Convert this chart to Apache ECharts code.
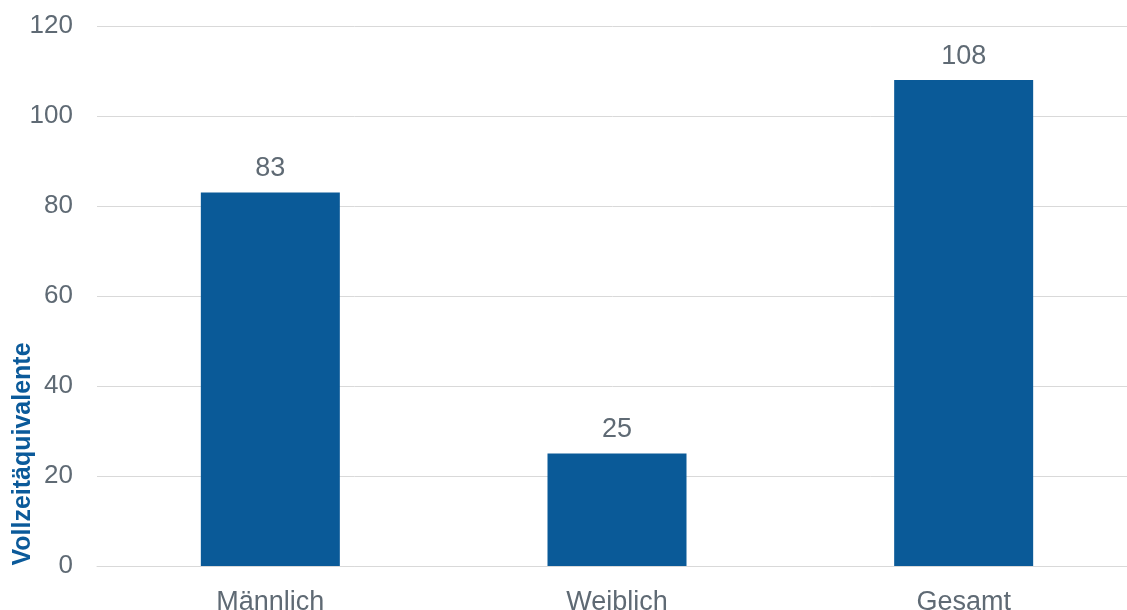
<!DOCTYPE html>
<html>
<head>
<meta charset="utf-8">
<script src="https://cdn.jsdelivr.net/npm/echarts@6/dist/echarts.min.js"></script>
<style>
  html, body { margin: 0; padding: 0; background: #fff; overflow: hidden; }
  #chart { width: 1127px; height: 610px; }
</style>
</head>
<body>
<div id="chart"></div>
<script>
// Daten
const categories = ["Männlich", "Weiblich", "Gesamt"];
const values = [83, 25, 108];
const yTitle = "Vollzeitäquivalente";

const chart = echarts.init(document.getElementById("chart"));
chart.setOption({
  animation: false,
  textStyle: { fontFamily: "Liberation Sans, Arial, sans-serif" },
  // Gitter reicht rechts etwas über den Rand hinaus (wie im Original)
  grid: { left: 97, right: -10, top: 26, bottom: 44, outerBoundsMode: "none" },
  xAxis: {
    type: "category",
    data: categories,
    axisLine: { lineStyle: { color: "#d9d9d9", width: 1 } },
    axisTick: { show: false },
    axisLabel: { color: "#5f6a74", fontSize: 27, margin: 23 }
  },
  yAxis: {
    type: "value",
    min: 0,
    max: 120,
    interval: 20,
    axisLine: { show: false },
    axisTick: { show: false },
    axisLabel: { color: "#5f6a74", fontSize: 26, margin: 24 },
    splitLine: { lineStyle: { color: "#d9d9d9", width: 1 } }
  },
  graphic: [{
    type: "text",
    x: 23,
    y: 454,
    rotation: Math.PI / 2,
    style: {
      text: yTitle,
      fill: "#0b5a9a",
      font: "bold 25px Liberation Sans, Arial, sans-serif",
      textAlign: "center",
      textVerticalAlign: "middle"
    }
  }],
  series: [{
    type: "bar",
    data: values,
    barWidth: 139,
    itemStyle: { color: "#0a5a98" },
    label: {
      show: true,
      position: "top",
      distance: 10,
      color: "#5f6a74",
      fontSize: 27
    }
  }]
});
</script>
</body>
</html>
